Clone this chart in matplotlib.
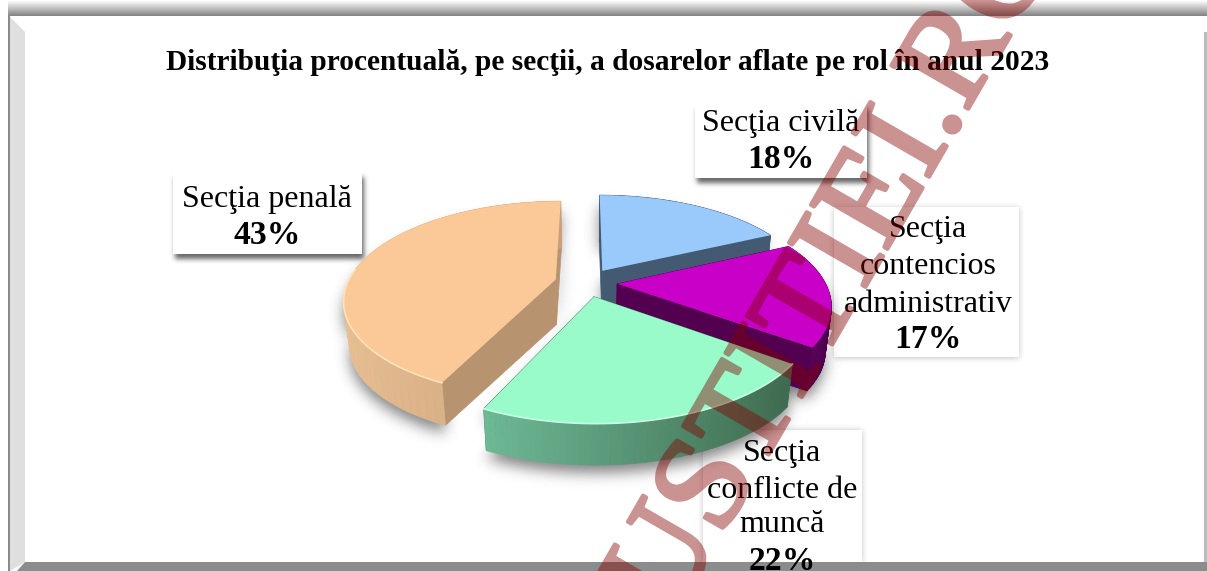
import numpy as np
import matplotlib
matplotlib.use('Agg')
import matplotlib.pyplot as plt
import matplotlib.patheffects as pe
from matplotlib.transforms import Transform
from matplotlib.patches import Polygon, Rectangle
from matplotlib.collections import PolyCollection

plt.rcParams['font.family'] = ['Liberation Serif', 'DejaVu Serif']

# Date
sectii = ['Secţia civilă', 'Secţia\ncontencios\nadministrativ', 'Secţia\nconflicte de\nmuncă', 'Secţia penală']
procente = [18, 17, 22, 43]
titlu = 'Distribuţia procentuală, pe secţii, a dosarelor aflate pe rol în anul 2023'
watermark = 'JUSTITIEI.RO'

# Culori: fata de sus, perete (stanga si dreapta), taietura
culori_sus = ['#99CAFB', '#C800C8', '#98FBC9', '#FBC998']
culori_perete = [('#445A73', '#445A73'), ('#5C0060', '#4F004F'), ('#6DB895', '#3F6B50'), ('#E6BE92', '#C9A07A')]
culori_taietura = ['#445A73', '#52004F', '#3F6B50', '#B89370']
culori_lumina = [None, None, '#C8FFE6', '#FFE3B8']

# Camera: perspectiva pe pie
EXPLODE = 0.15
CX, CY = 586, 282.5
A, B, P = 208, 95, 0.2
ADANCIME = 45
K = 0.975


class Camera(Transform):
    input_dims = 2
    output_dims = 2
    is_affine = False
    has_inverse = False

    def __init__(self, cx, cy, a, b, p):
        super().__init__()
        self.M = np.array([[a, cx * p, cx], [0, cy * p - b, cy], [0, p, 1]])

    def transform_non_affine(self, values):
        q = np.c_[np.asarray(values), np.ones(len(values))] @ self.M.T
        return q[:, :2] / q[:, 2:]


# Contur felie in coordonate de pie
def arc(w, n=60):
    t = np.radians(np.linspace(w.theta1, w.theta2, n))
    return np.c_[w.center[0] + w.r * np.cos(t), w.center[1] + w.r * np.sin(t)]


def hex_rgb(c):
    return np.array(matplotlib.colors.to_rgb(c))


# Filtru agg: umbra cu margini moi
def rozmaz(sigma, alpha):
    pad = int(3 * sigma)
    g = np.exp(-0.5 * (np.arange(-pad, pad + 1) / sigma) ** 2)
    g = g / g.sum()

    def filtru(im, dpi):
        a = np.pad(im[:, :, 3], pad)
        a = np.apply_along_axis(lambda v: np.convolve(v, g, mode='same'), 0, a)
        a = np.apply_along_axis(lambda v: np.convolve(v, g, mode='same'), 1, a)
        out = np.zeros(a.shape + (4,))
        out[:, :, :3] = 0.2
        out[:, :, 3] = a * alpha
        return out, -pad, -pad
    return filtru


# Filtru agg: transparenta pe tot textul
def transparent(alpha):
    def filtru(im, dpi):
        out = im.copy()
        out[:, :, 3] = out[:, :, 3] * alpha
        return out, 0, 0
    return filtru


def umbra(ax, pts, z, sigma, alpha):
    p = Polygon(pts, closed=True, fc='k', ec='none', zorder=z)
    p.set_agg_filter(rozmaz(sigma, alpha))
    ax.add_patch(p)


fig = plt.figure(figsize=(12.07, 5.71), dpi=100)
ax = fig.add_axes([0, 0, 1, 1])
wedges, _ = ax.pie(procente, startangle=90, counterclock=False, explode=[EXPLODE] * 4, colors=culori_sus)
ax.set_aspect('auto')
ax.set_xlim(0, 1207)
ax.set_ylim(571, 0)
ax.axis('off')

# Rama
ax.imshow(np.linspace(1, 0.52, 16)[:, None], cmap='gray', vmin=0, vmax=1, extent=(8, 1207, 16, 0), aspect='auto', zorder=1)
ax.set_xlim(0, 1207)
ax.set_ylim(571, 0)
ax.add_patch(Rectangle((8, 15), 2, 556, fc='#8A8A8A', ec='none', zorder=1))
ax.add_patch(Polygon([(10, 17), (25, 32), (25, 562), (10, 571)], fc='#DFDFDF', ec='none', zorder=1))
ax.add_patch(Rectangle((1204, 32), 3, 530, fc='#BDBDBD', ec='none', zorder=1))

# Etichete: cutii sub pie (x, y, latime, inaltime, dx umbra, dy umbra, sigma, alpha umbra)
cutii = [(695, 104, 172, 74, 2, 5, 2.5, 0.75), (834, 207, 185, 150, 0, 1, 3, 0.3),
         (703, 430, 159, 132, 0, 0, 3, 0.3), (173, 172, 189, 82, 2, 5, 2.5, 0.75)]
for x, y, w, h, dx, dy, s, al in cutii:
    x0, y0 = x + dx, y + dy
    umbra(ax, [(x0, y0), (x0 + w, y0), (x0 + w, y0 + h), (x0, y0 + h)], 2, s, al)
    ax.add_patch(Rectangle((x, y), w, h, fc='white', ec='none', zorder=2.5))
ax.add_patch(Polygon([(25, 562), (1207, 562), (1207, 571), (17, 571)], fc='#8C8C8C', ec='none', zorder=2.6))

cam_sus = Camera(CX, CY, A, B, P)
cam_jos = Camera(CX, CY + ADANCIME, A * K, B * K, P)

# Umbra pie
for w in wedges:
    contur = np.r_[[w.center], arc(w)]
    sus = cam_sus.transform(contur) + np.array([0, 12])
    jos = cam_jos.transform(contur) + np.array([0, 8])
    umbra(ax, np.r_[sus, jos[::-1]], 3, 7, 0.6)

# Felii
for k, w in enumerate(wedges):
    z = 4 + k
    rim = arc(w)
    rim_sus = cam_sus.transform(rim)
    rim_jos = cam_jos.transform(rim)
    c0, c1 = hex_rgb(culori_perete[k][0]), hex_rgb(culori_perete[k][1])

    # Taieturi
    apex = np.array([w.center])
    for capat in (rim[0], rim[-1]):
        p = np.array([capat])
        fata = np.r_[cam_sus.transform(apex), cam_sus.transform(p), cam_jos.transform(p), cam_jos.transform(apex)]
        ax.add_patch(Polygon(fata, fc=culori_taietura[k], ec=culori_taietura[k], lw=0.5, zorder=z))

    # Perete curb, cu gradient pe x
    patrate = [[rim_sus[i], rim_sus[i + 1], rim_jos[i + 1], rim_jos[i]] for i in range(len(rim) - 1)]
    xs = rim_sus[:, 0]
    f = (xs[:-1] - xs.min()) / (xs.max() - xs.min())
    ax.add_collection(PolyCollection(patrate, facecolors=[c0 + (c1 - c0) * v for v in f],
                                     edgecolors='face', linewidths=0.5, zorder=z + 0.1))

    # Fata de sus
    w.set_transform(cam_sus + ax.transData)
    w.set_clip_on(False)
    w.set_linewidth(0)
    w.set_zorder(z + 0.2)

    if culori_lumina[k]:
        fata_vizibila = rim_sus[rim[:, 1] < w.center[1] + 0.15]
        ax.plot(fata_vizibila[:, 0], fata_vizibila[:, 1], color=culori_lumina[k], lw=1.2, zorder=z + 0.3)

# Titlu si etichete
ax.text(608, 63, titlu, fontsize=21.2, fontweight='bold', ha='center', va='center', zorder=20)

pozitii = [(781, [121], 157), (928, [226, 263, 301], 337), (782, [451, 487, 522], 558), (267, [197], 233)]
for nume, pr, (x, ys, yp) in zip(sectii, procente, pozitii):
    for rand, y in zip(nume.split('\n'), ys):
        ax.text(x, y + 3, rand, fontsize=23, ha='center', va='center', zorder=20)
    ax.text(x, yp + 3, '%d%%' % pr, fontsize=24.2, fontweight='bold', ha='center', va='center', zorder=20)

# Filigran
t = ax.text(646, 667, watermark, fontsize=97, color='#860000', rotation=60,
            rotation_mode='anchor', ha='left', va='baseline', zorder=30)
t.set_path_effects([pe.withStroke(linewidth=3, foreground='#860000')])
t.set_agg_filter(transparent(0.43))

fig.savefig('out.png', dpi=100)
